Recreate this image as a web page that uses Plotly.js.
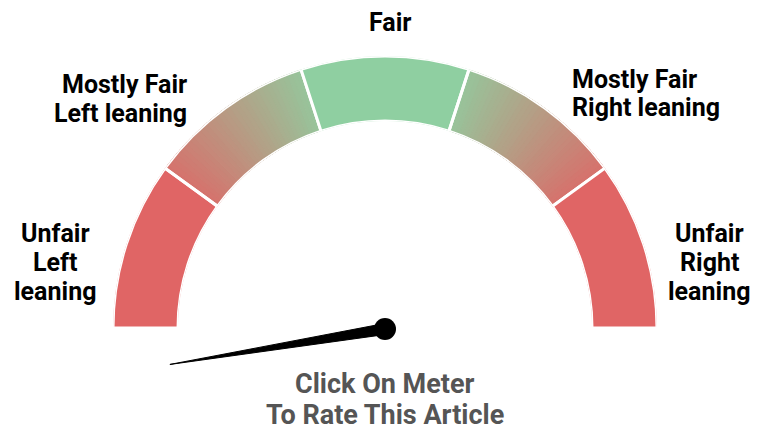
<!DOCTYPE html>
<html>
<head>
<meta charset="utf-8">
<script src="https://cdn.plot.ly/plotly-3.0.1.min.js"></script>
<style>html,body{margin:0;padding:0;background:#fff;}#chart{width:763px;height:430px;}</style>
</head>
<body>
<div id="chart"></div>
<script>
// ---- data ----
const segmentNames = ["Unfair Left leaning", "Mostly Fair Left leaning", "Fair", "Mostly Fair Right leaning", "Unfair Right leaning"];
const segmentSizes = [20, 20, 20, 20, 20];          // gauge units (0..100 scale)
const segmentKinds = ["red", "gradL", "green", "gradR", "red"];
const needleValue = -5.2;                            // gauge units, 0 = far left, 100 = far right
const gaugeMin = 0, gaugeMax = 100;

const labelLines = [
  ["Fair"],
  ["Mostly Fair", "Left leaning"],
  ["Mostly Fair", "Right leaning"],
  ["Unfair", "Left", "leaning"],
  ["Unfair", "Right", "leaning"]
];
const footerLines = ["Click On Meter", "To Rate This Article"];

// ---- styling ----
const W = 763, H = 430;
const RED = [224, 101, 101], GREEN = [143, 207, 161];
const cx = 385, cy = 328, Rout = 272, Rin = 207;

function mix(a, b, t) {
  return "rgb(" + a.map((v, i) => Math.round(v + (b[i] - v) * t)).join(",") + ")";
}
function valToDeg(v) { return 180 - (v - gaugeMin) / (gaugeMax - gaugeMin) * 180; }

// segment boundaries
const starts = [];
let acc = gaugeMin;
segmentSizes.forEach(s => { starts.push(acc); acc += s; });

const traces = [];
// gradient sub-wedges
const gTheta = [], gWidth = [], gColor = [];
segmentKinds.forEach((k, i) => {
  if (k !== "gradL" && k !== "gradR") return;
  const n = 36;
  for (let j = 0; j < n; j++) {
    const v0 = starts[i] + segmentSizes[i] * j / n;
    const v1 = starts[i] + segmentSizes[i] * (j + 1) / n;
    const th = (valToDeg(v0) + valToDeg(v1)) / 2;
    let t = (j + 0.5) / n;            // 0 at segment start (left side)
    if (k === "gradR") t = 1 - t;     // red at outer ends, green toward centre
    const col = mix(RED, GREEN, 0.12 + 0.78 * t);
    gTheta.push(th); gWidth.push(Math.abs(valToDeg(v1) - valToDeg(v0)) + 0.15); gColor.push(col);
  }
});
traces.push({
  type: "barpolar", r: gTheta.map(() => 1), base: gTheta.map(() => 0), theta: gTheta, width: gWidth,
  marker: { color: gColor, line: { color: gColor, width: 0.6 } },
  hoverinfo: "skip", showlegend: false
});
// main segments with white separators
traces.push({
  type: "barpolar",
  r: segmentSizes.map(() => 1), base: segmentSizes.map(() => 0),
  theta: segmentSizes.map((s, i) => valToDeg(starts[i] + s / 2)),
  width: segmentSizes.map(s => s / (gaugeMax - gaugeMin) * 180),
  text: segmentNames,
  marker: {
    color: segmentKinds.map(k => k === "red" ? mix(RED, RED, 0) : k === "green" ? mix(GREEN, GREEN, 0) : "rgba(0,0,0,0)"),
    line: { color: "#ffffff", width: 3 }
  },
  hoverinfo: "text", showlegend: false
});

// needle on a pixel-scaled cartesian overlay
const ang = valToDeg(needleValue) * Math.PI / 180;
const L = 218, hw = 5.5;
const ux = Math.cos(ang), uy = -Math.sin(ang);       // screen direction (y down)
const px = -uy, py = ux;
const nx = [cx + px * hw, cx + ux * L, cx - px * hw, cx + px * hw];
const ny = [cy + 1 + py * hw, cy + 1 + uy * L, cy + 1 - py * hw, cy + 1 + py * hw];
traces.push({
  type: "scatter", x: nx, y: ny, mode: "lines", fill: "toself",
  fillcolor: "#000", line: { color: "#000", width: 1 }, hoverinfo: "skip", showlegend: false
});
traces.push({
  type: "scatter", x: [cx], y: [cy + 1], mode: "markers",
  marker: { color: "#000", size: 22 }, hoverinfo: "skip", showlegend: false
});

// labels
const font = { family: "Roboto", size: 25, color: "#000", weight: 700 };
const ann = [];
const labelPos = [
  { x: 390, y: [22], anchor: "center" },
  { x: 189, y: [84, 113], anchor: "right" },
  { x: 570, y: [79, 107], anchor: "left" },
  { x: 55, y: [233, 262, 291], anchor: "center" },
  { x: 709, y: [233, 262, 291], anchor: "center" }
];
labelLines.forEach((lines, i) => {
  lines.forEach((t, j) => {
    ann.push({ xref: "x", yref: "y", x: labelPos[i].x, y: labelPos[i].y[j], text: t, showarrow: false,
      xanchor: labelPos[i].anchor, yanchor: "middle", font: font });
  });
});
const footY = [384, 415];
footerLines.forEach((t, j) => {
  ann.push({ xref: "x", yref: "y", x: 385, y: footY[j], text: t, showarrow: false,
    xanchor: "center", yanchor: "middle", font: { family: "Roboto", size: 27, color: "#555555", weight: 700 } });
});

const layout = {
  width: W, height: H,
  margin: { l: 0, r: 0, t: 0, b: 0, pad: 0 },
  paper_bgcolor: "#ffffff", plot_bgcolor: "rgba(0,0,0,0)",
  showlegend: false,
  polar: {
    domain: { x: [(cx - Rout) / W, (cx + Rout) / W], y: [1 - cy / H, 1 - (cy - Rout) / H] },
    sector: [0, 180], hole: Rin / Rout, bgcolor: "rgba(0,0,0,0)",
    radialaxis: { visible: false, range: [0, 1] },
    angularaxis: { visible: false, rotation: 0, direction: "counterclockwise" },
    bargap: 0
  },
  xaxis: { range: [0, W], visible: false, fixedrange: true, domain: [0, 1] },
  yaxis: { range: [H, 0], visible: false, fixedrange: true, domain: [0, 1] },
  annotations: ann
};

Plotly.newPlot("chart", traces, layout, { displayModeBar: false, staticPlot: true });
</script>
</body>
</html>
